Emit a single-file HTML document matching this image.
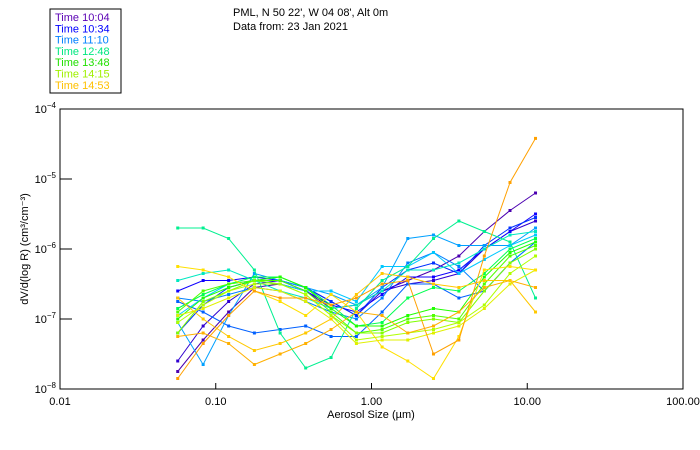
<!DOCTYPE html>
<html><head><meta charset="utf-8"><style>
body{margin:0;background:#fff;}
svg{display:block;font-family:"Liberation Sans",sans-serif;}
</style></head><body>
<svg id="chart" width="700" height="450" viewBox="0 0 700 450">
<rect x="50" y="9" width="71" height="84" fill="#fff" stroke="#000" stroke-width="1"/>
<g id="legend" font-size="11"></g>
<text x="233" y="16" font-size="11">PML, N 50 22', W 04 08', Alt 0m</text>
<text x="233" y="30" font-size="11">Data from: 23 Jan 2021</text>
<g id="axes"></g>
<g id="series"></g>
<text x="371" y="418" font-size="11" text-anchor="middle">Aerosol Size (µm)</text>
<text transform="translate(28,249) rotate(-90)" font-size="11" text-anchor="middle">dV/d(log R) (cm³/cm⁻³)</text>
</svg>
<script>
const sizes=[0.057,0.083,0.121,0.177,0.259,0.378,0.55,0.80,1.17,1.71,2.5,3.64,5.3,7.75,11.3];
const xTickLabels=["0.01","0.10","1.00","10.00","100.00"];
const xTickValues=[0.01,0.1,1,10,100];
const yTickExps=[-4,-5,-6,-7,-8];
const legendLabels=["Time 10:04","Time 10:34","Time 11:10","Time 12:48","Time 13:48","Time 14:15","Time 14:53"];
const legendColors=["#5a00b4","#0000ff","#0080ff","#00e880","#20e000","#a0f000","#ffc000"];
const seriesColors=["#4b00b0","#3000d0","#1000ff","#0030ff","#0060ff","#0080ff","#00a0ff","#00c8ff","#00e8c0","#00f090","#00ff50","#20ff00","#50ff00","#80ff00","#b0ff00","#e0f000","#ffe000","#ffb000","#ffa000","#ffc800"];
// log10 of dV/d(log R)
const s1=[-7.75,-7.3,-6.9,-6.55,-6.5,-6.6,-6.85,-6.8,-6.6,-6.45,-6.3,-6.1,-5.75,-5.45,-5.2];
const s2=[-7.6,-7.1,-6.75,-6.5,-6.45,-6.55,-6.75,-6.95,-6.6,-6.5,-6.45,-6.35,-6.0,-5.75,-5.6];
const s3=[-6.6,-6.45,-6.45,-6.4,-6.45,-6.6,-6.8,-6.9,-6.65,-6.4,-6.4,-6.3,-6.0,-5.75,-5.5];
const s4=[-7.2,-6.8,-6.55,-6.45,-6.45,-6.55,-6.75,-6.95,-6.55,-6.3,-6.2,-6.35,-5.95,-5.7,-5.55];
const s5=[-6.75,-6.9,-7.1,-7.2,-7.15,-7.1,-7.25,-7.25,-6.9,-6.5,-6.5,-6.7,-6.6,-6.2,-5.9];
const s6=[-6.7,-6.75,-6.65,-6.55,-6.6,-6.75,-6.9,-7.0,-6.7,-6.2,-6.05,-6.25,-6.6,-6.2,-5.9];
const s7=[-7.05,-7.65,-6.95,-6.35,-6.45,-6.55,-6.65,-6.8,-6.55,-5.85,-5.8,-5.95,-5.95,-5.95,-5.7];
const s8=[-6.95,-6.7,-6.5,-6.45,-6.5,-6.6,-6.6,-6.75,-6.25,-6.25,-6.05,-6.35,-6.15,-5.95,-5.8];
const s9=[-6.45,-6.35,-6.3,-6.45,-6.6,-6.7,-6.85,-6.8,-6.6,-6.3,-6.3,-6.2,-6.0,-5.8,-5.75];
const s10=[-5.7,-5.7,-5.85,-6.3,-7.2,-7.7,-7.55,-6.85,-6.45,-6.25,-5.85,-5.6,-5.75,-5.9,-6.7];
const s11=[-6.85,-6.65,-6.5,-6.4,-6.4,-6.55,-6.8,-7.1,-7.05,-6.7,-6.55,-6.6,-6.35,-6.0,-5.85];
const s12=[-7.0,-6.7,-6.55,-6.45,-6.4,-6.55,-6.85,-7.1,-7.1,-6.95,-6.85,-6.9,-6.4,-6.05,-5.9];
const s13=[-6.9,-6.6,-6.5,-6.45,-6.45,-6.6,-6.9,-7.2,-7.15,-7.0,-6.95,-7.0,-6.5,-6.1,-5.95];
const s14=[-7.2,-6.75,-6.6,-6.45,-6.5,-6.65,-6.95,-7.2,-7.2,-7.05,-7.0,-7.05,-6.6,-6.2,-6.0];
const s15=[-7.05,-6.8,-6.6,-6.5,-6.5,-6.65,-6.95,-7.3,-7.25,-7.2,-7.15,-7.05,-6.8,-6.35,-6.1];
const s16=[-6.95,-6.85,-6.7,-6.55,-6.6,-6.75,-7.0,-7.35,-7.3,-7.3,-7.2,-7.1,-6.85,-6.5,-6.3];
const s17=[-6.25,-6.3,-6.4,-6.6,-6.75,-6.95,-6.65,-6.9,-7.4,-7.6,-7.85,-7.25,-6.3,-6.25,-6.3];
const s18=[-7.25,-7.2,-7.35,-7.65,-7.5,-7.35,-7.15,-6.9,-6.95,-7.2,-7.1,-6.9,-6.55,-6.45,-6.55];
const s19=[-7.85,-7.35,-6.95,-6.6,-6.7,-6.7,-6.8,-6.7,-6.5,-6.45,-7.5,-7.3,-6.1,-5.05,-4.42];
const s20=[-6.7,-7.0,-7.25,-7.45,-7.35,-7.2,-7.0,-6.65,-6.35,-6.4,-6.5,-6.55,-6.45,-6.45,-6.9];
const allSeries=[s1,s2,s3,s4,s5,s6,s7,s8,s9,s10,s11,s12,s13,s14,s15,s16,s17,s18,s19,s20];

const NS="http://www.w3.org/2000/svg";
const L=60,R=683,T=109,B=389;
function xs(v){return L+(Math.log10(v)+2)/4*(R-L);}
function ys(lg){return T+(-4-lg)/4*(B-T);}
function mk(tag,attrs,parent){const e=document.createElementNS(NS,tag);for(const k in attrs)e.setAttribute(k,attrs[k]);parent.appendChild(e);return e;}

const lg=document.getElementById('legend');
legendLabels.forEach((t,i)=>{
  const e=mk('text',{x:55,y:21+i*11.3,fill:legendColors[i]},lg);
  e.textContent=t;
  
  
});

const ax=document.getElementById('axes');
const frame=mk('rect',{x:L,y:T,width:R-L,height:B-T,fill:'none',stroke:'#000','stroke-width':1},ax);


xTickValues.forEach((v,i)=>{
  const x=xs(v);
  const tk=mk('line',{x1:x,x2:x,y1:B,y2:B-6,stroke:'#000'},ax);
  
  
  const t=mk('text',{x:x,y:B+16,'font-size':11,'text-anchor':'middle'},ax);
  t.textContent=xTickLabels[i];
  
  
});
yTickExps.forEach(e=>{
  const y=ys(e);
  const tk=mk('line',{x1:L,x2:L+12,y1:y,y2:y,stroke:'#000'},ax);
  
  
  const t=mk('text',{x:L-4,y:y+4,'font-size':11,'text-anchor':'end'},ax);
  t.textContent='10';
  const sp=mk('tspan',{dy:-5,'font-size':8},t);
  sp.textContent='−'+(-e);
  
  
});

const sg=document.getElementById('series');
allSeries.forEach((s,i)=>{
  const c=seriesColors[i];
  const pts=s.map((v,j)=>xs(sizes[j]).toFixed(1)+','+ys(v).toFixed(1)).join(' ');
  const pl=mk('polyline',{points:pts,fill:'none',stroke:c,'stroke-width':1},sg);
  
  
  s.forEach((v,j)=>{
    const m=mk('rect',{x:xs(sizes[j])-1.5,y:ys(v)-1.5,width:3,height:3,fill:c},sg);
    
    
  });
});
</script>
</body></html>
